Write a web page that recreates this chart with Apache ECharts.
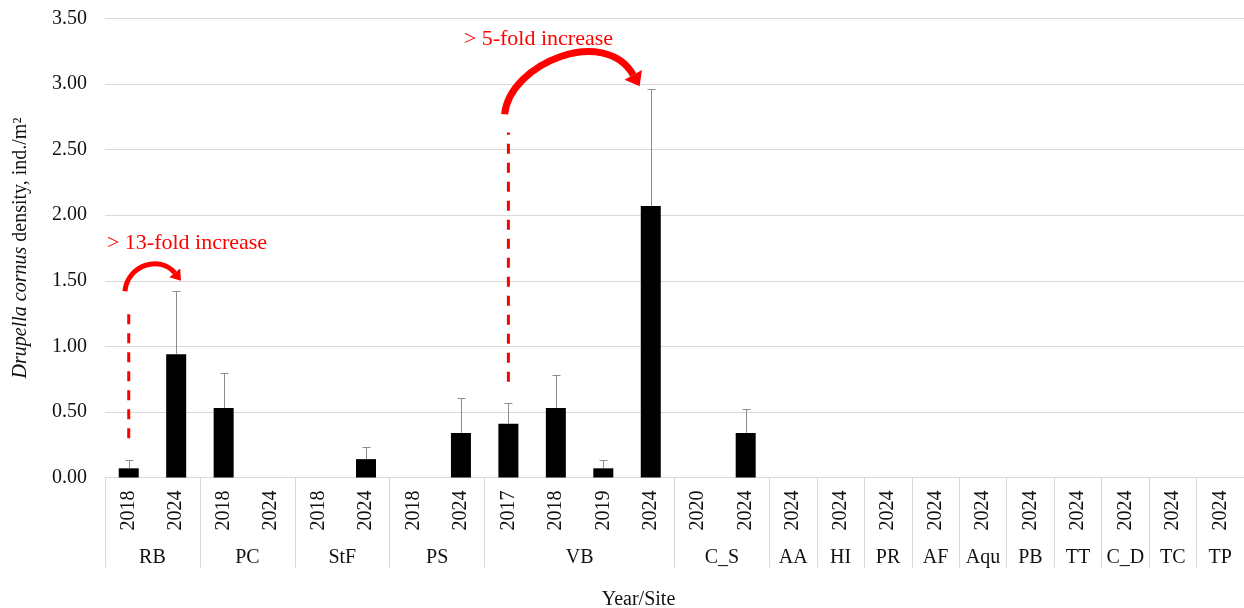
<!DOCTYPE html>
<html>
<head>
<meta charset="utf-8">
<script src="https://cdn.jsdelivr.net/npm/echarts@6/dist/echarts.min.js"></script>
<style>
html,body{margin:0;padding:0;background:#fff;}
#chart{width:1244px;height:608px;}
</style>
</head>
<body>
<div id="chart"></div>
<script>
// ---- data ----
const sites = ['RB','PC','StF','PS','VB','C_S','AA','HI','PR','AF','Aqu','PB','TT','C_D','TC','TP'];
const siteYears = [
  ['2018','2024'], ['2018','2024'], ['2018','2024'], ['2018','2024'],
  ['2017','2018','2019','2024'], ['2020','2024'],
  ['2024'], ['2024'], ['2024'], ['2024'], ['2024'], ['2024'], ['2024'], ['2024'], ['2024'], ['2024']
];
const density = [0.07, 0.94, 0.53, 0, 0, 0.14, 0, 0.34, 0.41, 0.53, 0.07, 2.07, 0, 0.34,
                 0, 0, 0, 0, 0, 0, 0, 0, 0, 0];
const stdErr  = [0.063, 0.48, 0.27, 0, 0, 0.09, 0, 0.267, 0.157, 0.25, 0.063, 0.895, 0, 0.183,
                 0, 0, 0, 0, 0, 0, 0, 0, 0, 0];
const yTicks = [0, 0.5, 1, 1.5, 2, 2.5, 3, 3.5];

// ---- derived ----
const categories = [];
const groupStarts = [];
const siteCenters = {};
siteYears.forEach((ys, i) => {
  groupStarts.push(categories.length);
  siteCenters[(categories.length + ys.length / 2).toFixed(1)] = sites[i];
  ys.forEach(y => categories.push(y));
});
const nCat = categories.length;

// annotations (in continuous category units / value units)
const annotations = {
  dashed: [
    {x: 0.5, y1: 0.30, y2: 1.29},
    {x: 8.5, y1: 0.73, y2: 2.63}
  ],
  arrows: [
    {p: [[0.42, 1.42], [0.47, 1.62], [1.16, 1.70], [1.47, 1.56]], w: 5, hl: 10, hw: 14},
    {p: [[8.42, 2.77], [8.53, 3.16], [10.53, 3.45], [11.13, 3.07]], w: 7, hl: 13, hw: 20}
  ],
  texts: [
    {x: 0.04, y: 1.79, text: '> 13-fold increase'},
    {x: 7.56, y: 3.34, text: '> 5-fold increase'}
  ]
};

const FONT = '"Liberation Serif", "Times New Roman", serif';
const chart = echarts.init(document.getElementById('chart'), null, {renderer: 'canvas'});

const option = {
  animation: false,
  backgroundColor: '#fff',
  grid: {left: 105, right: 0, top: 18.5, bottom: 130.5, containLabel: false, outerBoundsMode: 'none'},
  xAxis: [
    {
      type: 'category',
      data: categories,
      position: 'bottom',
      axisLine: {show: true, lineStyle: {color: '#d9d9d9', width: 1}},
      axisTick: {
        show: true, length: 90, alignWithLabel: false,
        interval: function (index) { return groupStarts.indexOf(index) >= 0; },
        lineStyle: {color: '#d9d9d9', width: 1}
      },
      axisLabel: {interval: 0, rotate: 90, margin: 13, color: '#111', fontFamily: FONT, fontSize: 20},
      splitLine: {show: false},
      name: 'Year/Site',
      nameLocation: 'middle',
      nameGap: 112,
      nameTextStyle: {color: '#111', fontFamily: FONT, fontSize: 20, padding: [0, 72, 0, 0]}
    },
    {
      type: 'value',
      min: 0, max: nCat, interval: 0.5,
      position: 'bottom',
      axisLine: {show: false},
      axisTick: {show: false},
      splitLine: {show: false},
      axisLabel: {
        show: true, margin: 70, color: '#111', fontFamily: FONT, fontSize: 20,
        showMinLabel: true, showMaxLabel: true,
        formatter: function (v) { return siteCenters[v.toFixed(1)] || ''; }
      }
    }
  ],
  yAxis: {
    type: 'value',
    min: 0, max: 3.5, interval: 0.5,
    axisLine: {show: false},
    axisTick: {show: false},
    splitLine: {show: true, lineStyle: {color: '#d9d9d9', width: 1}},
    axisLabel: {margin: 18, color: '#111', fontFamily: FONT, fontSize: 20,
      formatter: function (v) { return yTicks.indexOf(v) >= 0 ? v.toFixed(2) : ''; }},
    name: '{i|Drupella cornus} density, ind./m²',
    nameLocation: 'middle',
    nameGap: 74,
    nameRotate: 90,
    nameTextStyle: {
      color: '#111', fontFamily: FONT, fontSize: 20,
      rich: {i: {fontStyle: 'italic', fontFamily: FONT, fontSize: 20, color: '#111'}}
    }
  },
  series: [
    {
      type: 'bar',
      xAxisIndex: 0, yAxisIndex: 0,
      data: density,
      barWidth: 20,
      itemStyle: {color: '#000'},
      z: 2
    },
    {
      type: 'custom',
      xAxisIndex: 0, yAxisIndex: 0,
      data: density.map((v, i) => [i, v, v + stdErr[i]]),
      renderItem: function (params, api) {
        const v = api.value(1), top = api.value(2);
        if (!(v > 0)) return null;
        const p0 = api.coord([api.value(0), v]);
        const p1 = api.coord([api.value(0), top]);
        const x = Math.round(p0[0]) + 0.5;
        const yt = Math.round(p1[1]) + 0.5;
        return {
          type: 'group',
          children: [
            {type: 'line', shape: {x1: x, y1: p0[1], x2: x, y2: yt}, style: {stroke: '#8c8c8c', lineWidth: 1}},
            {type: 'line', shape: {x1: x - 4, y1: yt, x2: x + 4, y2: yt}, style: {stroke: '#8c8c8c', lineWidth: 1}}
          ]
        };
      },
      z: 3
    },
    {
      type: 'custom',
      xAxisIndex: 1, yAxisIndex: 0,
      data: [[0, 0]],
      clip: false,
      renderItem: function (params, api) {
        const children = [];
        annotations.dashed.forEach(d => {
          const a = api.coord([d.x, d.y1]), b = api.coord([d.x, d.y2]);
          children.push({type: 'line', shape: {x1: a[0], y1: a[1], x2: b[0], y2: b[1]},
            style: {stroke: '#ff0000', lineWidth: 3, lineDash: [10, 9]}});
        });
        annotations.arrows.forEach(ar => {
          const pts = ar.p.map(q => api.coord(q));
          children.push({type: 'bezierCurve',
            shape: {x1: pts[0][0], y1: pts[0][1], cpx1: pts[1][0], cpy1: pts[1][1],
                    cpx2: pts[2][0], cpy2: pts[2][1], x2: pts[3][0], y2: pts[3][1]},
            style: {stroke: '#ff0000', lineWidth: ar.w, fill: null}});
          let dx = pts[3][0] - pts[2][0], dy = pts[3][1] - pts[2][1];
          const len = Math.sqrt(dx * dx + dy * dy); dx /= len; dy /= len;
          const nx = -dy, ny = dx;
          const e = pts[3];
          children.push({type: 'polygon', shape: {points: [
            [e[0] + nx * ar.hw / 2, e[1] + ny * ar.hw / 2],
            [e[0] + dx * ar.hl, e[1] + dy * ar.hl],
            [e[0] - nx * ar.hw / 2, e[1] - ny * ar.hw / 2]
          ]}, style: {fill: '#ff0000'}});
        });
        annotations.texts.forEach(t => {
          const p = api.coord([t.x, t.y]);
          children.push({type: 'text', x: p[0], y: p[1],
            style: {text: t.text, fill: '#ff0000', fontFamily: FONT, fontSize: 22,
              align: 'left', verticalAlign: 'middle'}});
        });
        return {type: 'group', children: children};
      },
      z: 5
    }
  ]
};
chart.setOption(option);
</script>
</body>
</html>
